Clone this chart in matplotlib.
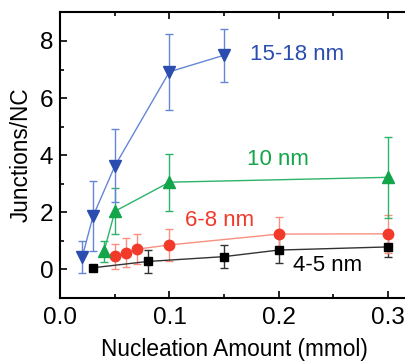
import matplotlib
matplotlib.use("Agg")
import matplotlib.pyplot as plt
from matplotlib.ticker import MultipleLocator

plt.rcParams['font.family'] = ['Liberation Sans', 'DejaVu Sans']

# 15-18 nm
x_blue = [0.02, 0.03, 0.05, 0.10, 0.15]
y_blue = [0.42, 1.86, 3.62, 6.92, 7.50]
e_blue = [0.57, 1.23, 1.28, 1.33, 0.93]
# 10 nm
x_green = [0.04, 0.05, 0.10, 0.30]
y_green = [0.62, 2.03, 3.05, 3.22]
e_green = [0.36, 0.81, 1.00, 1.41]
# 6-8 nm
x_red = [0.05, 0.06, 0.07, 0.10, 0.20, 0.30]
y_red = [0.45, 0.58, 0.70, 0.85, 1.23, 1.24]
e_red = [0.45, 0.52, 0.52, 0.57, 0.60, 0.67]
# 4-5 nm
x_black = [0.03, 0.08, 0.15, 0.20, 0.30]
y_black = [0.05, 0.27, 0.44, 0.67, 0.78]
e_black = [0.10, 0.40, 0.41, 0.47, 0.37]

labels = ["15-18 nm", "10 nm", "6-8 nm", "4-5 nm"]

fig = plt.figure(figsize=(4.06, 3.62), dpi=100)
ax = fig.add_axes([0.1486, 0.1776, 0.86, 0.788])

def series(x, y, e, mk, mcol, lcol, ms):
    ax.errorbar(x, y, yerr=e, fmt='none', ecolor=lcol, elinewidth=1.0,
                capsize=3, capthick=1.0, zorder=2)
    ax.plot(x, y, '-', color=lcol, lw=1.0, zorder=3)
    ax.plot(x, y, mk, color=mcol, ms=ms, mec=mcol, zorder=4, ls='none')

series(x_black, y_black, e_black, 's', 'black', '#333333', 6)
series(x_red, y_red, e_red, 'o', '#F23A2B', '#F7907F', 7.5)
series(x_green, y_green, e_green, '^', '#12A54A', '#2DB36A', 8)
series(x_blue, y_blue, e_blue, 'v', '#2A4DAF', '#6586D6', 9)

ax.text(0.217, 7.52, labels[0], color='#2A4DAF', fontsize=16, ha='center', va='center')
ax.text(0.199, 3.84, labels[1], color='#12A54A', fontsize=16, ha='center', va='center')
ax.text(0.146, 1.69, labels[2], color='#F23A2B', fontsize=16, ha='center', va='center')
ax.text(0.245, 0.12, labels[3], color='black', fontsize=16, ha='center', va='center')

ax.set_xlim(0, 0.32)
ax.set_ylim(-1, 9)
ax.xaxis.set_major_locator(MultipleLocator(0.1))
ax.xaxis.set_minor_locator(MultipleLocator(0.05))
ax.yaxis.set_major_locator(MultipleLocator(2))
ax.yaxis.set_minor_locator(MultipleLocator(1))
ax.set_xticks([0, 0.1, 0.2, 0.3])
ax.set_xticklabels(["0.0", "0.1", "0.2", "0.3"])

ax.tick_params(axis='x', which='both', direction='in', top=True, labelsize=17.5, pad=7, width=1.2)
ax.tick_params(axis='x', which='major', length=5)
ax.tick_params(axis='x', which='minor', length=3)
ax.tick_params(axis='y', which='both', direction='in', labelsize=17.5, width=1.2, pad=5)
ax.tick_params(axis='y', which='major', length=5)
ax.tick_params(axis='y', which='minor', length=3)

for s in ax.spines.values():
    s.set_linewidth(1.5)

ax.set_xlabel("Nucleation Amount (mmol)", fontsize=16.3, labelpad=6)
ax.set_ylabel("Junctions/NC", fontsize=16.3, labelpad=5)

fig.savefig("out.png", dpi=100)
